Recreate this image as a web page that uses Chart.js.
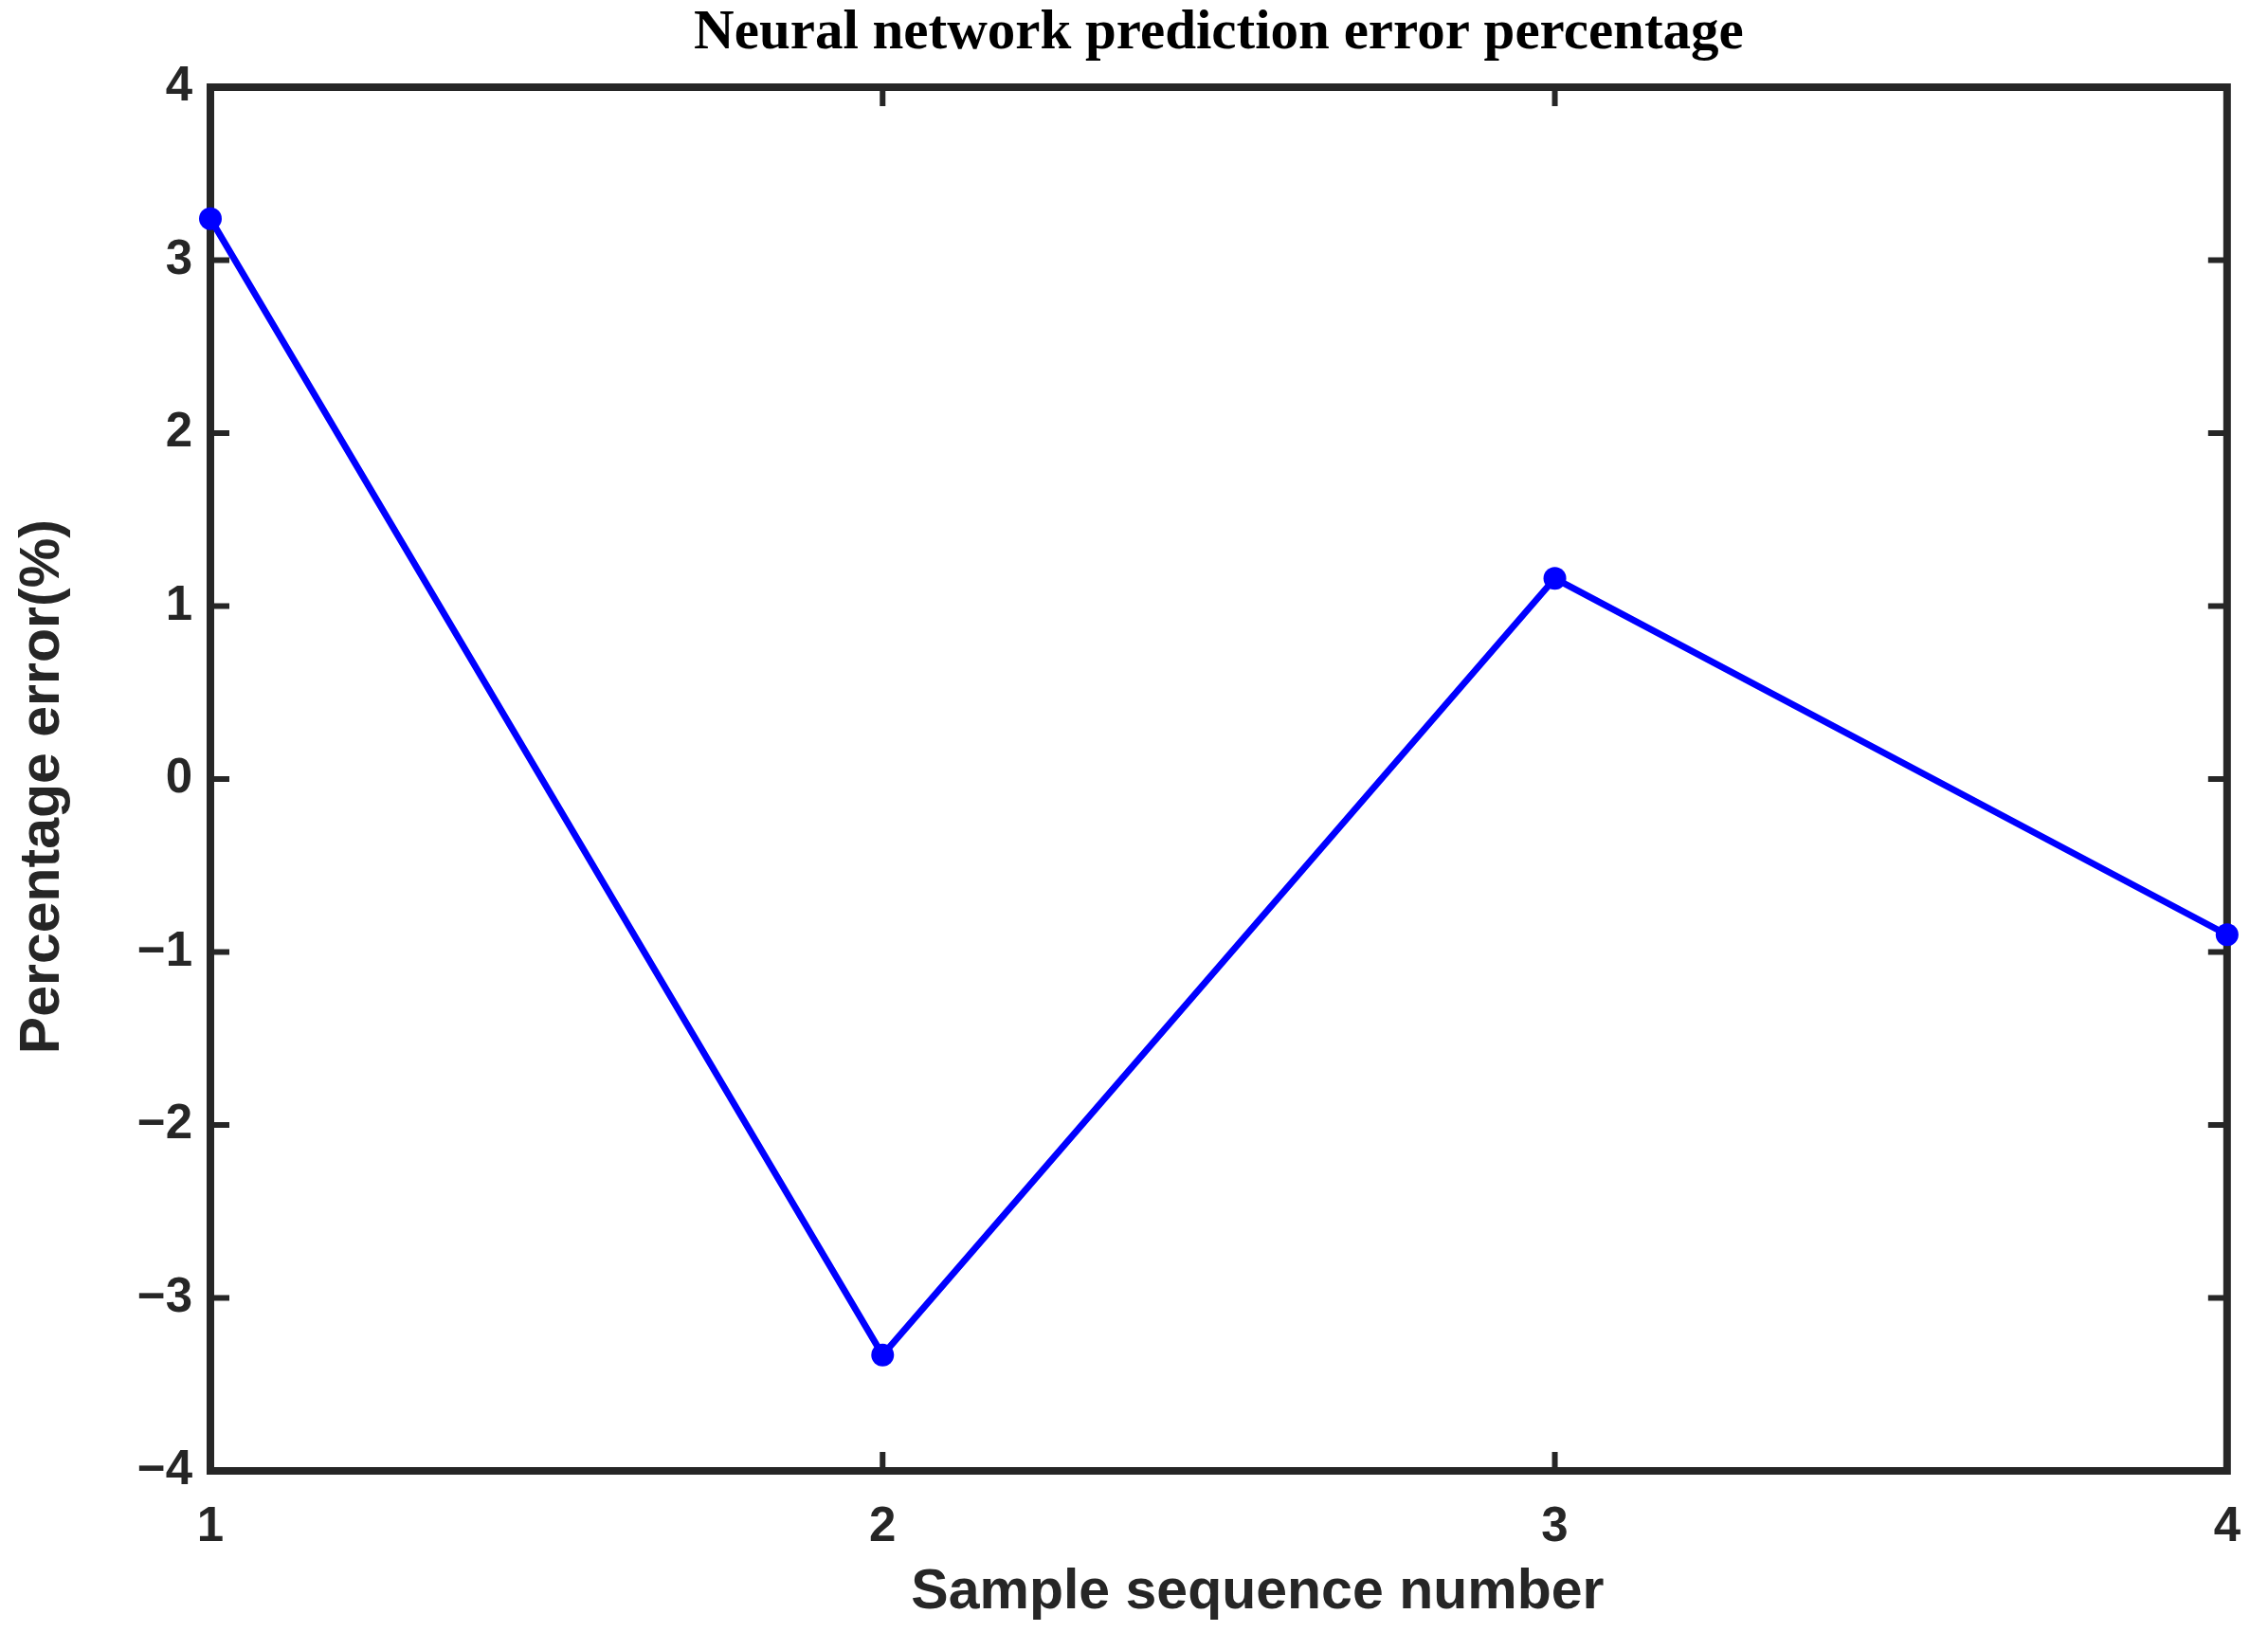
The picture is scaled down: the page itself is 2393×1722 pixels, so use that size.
<!DOCTYPE html>
<html>
<head>
<meta charset="utf-8">
<script src="https://cdn.jsdelivr.net/npm/chart.js@4"></script>
<style>
html,body{margin:0;padding:0;background:#fff;}
#wrap{width:2393px;height:1722px;position:relative;}
</style>
</head>
<body>
<div id="wrap"><canvas id="c" width="2393" height="1722"></canvas></div>
<script>
const samples = [1, 2, 3, 4];
const errorPct = [3.24, -3.33, 1.16, -0.90];
const yTicks = [-4, -3, -2, -1, 0, 1, 2, 3, 4];
const xTicks = [1, 2, 3, 4];
const titleText = 'Neural network prediction error percentage';
const xLabel = 'Sample sequence number';
const yLabel = 'Percentage error(%)';

const AX = '#262626';

const boxPlugin = {
  id: 'boxTicks',
  beforeDatasetsDraw(chart) {
    const {ctx, chartArea: a, scales} = chart;
    ctx.save();
    ctx.strokeStyle = AX;
    ctx.lineWidth = 6;
    const L = 20;
    ctx.beginPath();
    yTicks.forEach(v => {
      const p = scales.y.getPixelForValue(v);
      ctx.moveTo(a.left, p); ctx.lineTo(a.left + L, p);
      ctx.moveTo(a.right, p); ctx.lineTo(a.right - L, p);
    });
    xTicks.forEach(v => {
      const p = scales.x.getPixelForValue(v);
      ctx.moveTo(p, a.bottom); ctx.lineTo(p, a.bottom - L);
      ctx.moveTo(p, a.top); ctx.lineTo(p, a.top + L);
    });
    ctx.stroke();
    ctx.lineWidth = 8;
    ctx.strokeRect(a.left, a.top, a.right - a.left, a.bottom - a.top);
    ctx.restore();
  }
};

new Chart(document.getElementById('c'), {
  type: 'line',
  data: {
    datasets: [{
      data: samples.map((s, i) => ({x: s, y: errorPct[i]})),
      borderColor: '#0000FF',
      backgroundColor: '#0000FF',
      borderWidth: 7,
      pointRadius: 12,
      pointHoverRadius: 12,
      pointBorderWidth: 0,
      tension: 0,
      clip: false
    }]
  },
  options: {
    responsive: false,
    animation: false,
    devicePixelRatio: 1,
    layout: {padding: {left: 0, right: 41, top: 0, bottom: 0}},
    plugins: {
      legend: {display: false},
      tooltip: {enabled: false},
      title: {
        display: true,
        text: titleText,
        fullSize: false,
        color: '#000',
        font: {family: '"Liberation Serif", "Times New Roman", serif', weight: 'bold', size: 59, lineHeight: 1.0},
        padding: {top: 6, bottom: 27}
      }
    },
    scales: {
      x: {
        type: 'linear',
        min: 1, max: 4,
        afterFit: s => { s.height = 170; },
        afterBuildTicks: s => { s.ticks = xTicks.map(v => ({value: v})); },
        grid: {display: false, drawTicks: false},
        border: {display: false},
        ticks: {
          color: AX,
          padding: 29,
          font: {family: '"Liberation Sans", Arial, sans-serif', weight: 'bold', size: 51},
          maxRotation: 0,
          callback: v => String(v)
        },
        title: {
          display: true,
          text: '\u00a0\u00a0\u00a0\u00a0\u00a0' + xLabel,
          color: AX,
          font: {family: '"Liberation Sans", Arial, sans-serif', weight: 'bold', size: 59},
          padding: {top: 0, bottom: 6}
        }
      },
      y: {
        type: 'linear',
        min: -4, max: 4,
        afterFit: s => { s.width = 222; },
        afterBuildTicks: s => { s.ticks = yTicks.map(v => ({value: v})); },
        grid: {display: false, drawTicks: false},
        border: {display: false},
        ticks: {
          color: AX,
          padding: 19,
          font: {family: '"Liberation Sans", Arial, sans-serif', weight: 'bold', size: 51},
          callback: v => (v < 0 ? '\u2212' + Math.abs(v) : String(v))
        },
        title: {
          display: true,
          text: yLabel + '\u00a0',
          color: AX,
          font: {family: '"Liberation Sans", Arial, sans-serif', weight: 'bold', size: 59},
          padding: {top: 10, bottom: 0}
        }
      }
    }
  },
  plugins: [boxPlugin]
});
</script>
</body>
</html>
